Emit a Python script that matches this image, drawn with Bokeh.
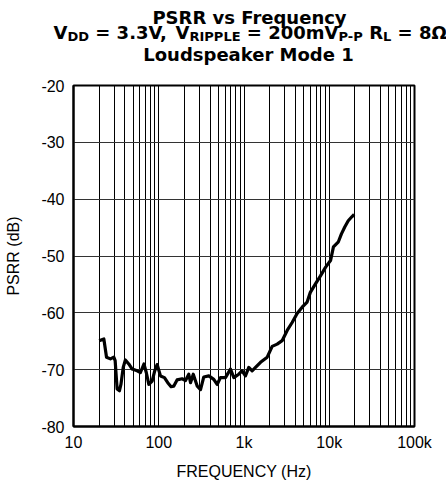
from bokeh.plotting import figure
from bokeh.layouts import column
from bokeh.models import FixedTicker, Range1d
from bokeh.core.properties import value
from bokeh.embed import file_html
from bokeh.resources import INLINE

# ---- data ----
freq_hz = [20, 22.7, 24.4, 27.1, 29.7, 30.8, 32.5, 34.6, 36, 38.3, 40.6, 44.5, 48.8,
           55.8, 61, 67, 71.4, 76.5, 83.6, 89.7, 95.7, 104.8, 116.6, 127.5, 139.5,
           149.8, 164, 188, 206, 225, 236, 254, 283, 309, 337, 387, 442, 484, 529,
           606, 694, 760, 868, 950, 1040, 1138, 1246, 1365, 1563, 1872, 2140, 2450,
           2800, 3210, 3670, 4200, 4810, 5500, 6000, 6890, 7890, 9030, 10350, 11200,
           12800, 13900, 15200, 16700, 18400, 19600]
psrr_db = [-64.9, -64.6, -67.8, -68.1, -67.8, -68.4, -73.4, -73.7, -72.6, -69.6, -68.3,
           -69.0, -69.9, -70.2, -70.5, -69.0, -70.5, -72.6, -72.0, -70.2, -69.1, -71.1,
           -71.4, -72.3, -73.0, -72.9, -71.8, -71.6, -71.9, -70.8, -72.3, -70.8, -72.9,
           -73.5, -71.3, -71.1, -71.7, -72.6, -71.4, -71.4, -69.9, -71.4, -70.8, -70.2,
           -71.1, -69.6, -70.2, -69.6, -68.7, -67.8, -65.9, -65.5, -64.9, -63.1, -61.7,
           -60.1, -59.0, -58.1, -56.4, -54.9, -53.5, -52.0, -50.8, -48.4, -47.5, -46.1,
           -44.9, -43.8, -43.1, -42.7]

x_ticks = [10, 100, 1000, 10000, 100000]
x_tick_labels = ["10", "100", "1k", "10k", "100k"]
y_ticks = [-80, -70, -60, -50, -40, -30, -20]
y_tick_labels = ["-80", "-70", "-60", "-50", "-40", "-30", "-20"]

title_line1 = "PSRR vs Frequency"
title_line3 = "Loudspeaker Mode 1"
# line 2 segments: (text, is_subscript)
title_line2 = [("V", False), ("DD", True), (" = 3.3V, V", False), ("RIPPLE", True),
               (" = 200mV", False), ("P-P", True), (" R", False), ("L", True),
               (" = 8Ω", False)]

FONT = "Liberation Sans"
TFONT = "DejaVu Sans"
W, H = 446, 483
HEAD_H = 70
MAIN_PX, SUB_PX = 18, 13
Y1, Y2, Y2S, Y3 = 17, 32, 35.5, 54

# approximate advance widths (em) of DejaVu Sans Bold, used only for laying out line 2
ADV = {"V": .774, "D": .830, "=": .838, "3": .696, ".": .380, ",": .380, " ": .348,
       "R": .770, "I": .372, "P": .733, "L": .637, "E": .683, "2": .696, "0": .696,
       "m": 1.042, "-": .415, "8": .696, "Ω": .837}

# ---- header with the three title lines (pixel coordinates, y downward) ----
head = figure(width=W, height=HEAD_H, x_range=Range1d(0, W), y_range=Range1d(HEAD_H, 0),
              output_backend="svg", toolbar_location=None,
              x_axis_location=None, y_axis_location=None,
              min_border_left=0, min_border_right=0, min_border_top=0, min_border_bottom=0)
head.frame_align = False
head.outline_line_color = None
head.grid.visible = False
head.background_fill_color = "white"
head.border_fill_color = "white"

base = dict(text_font=value(TFONT), text_font_style=value("bold"), text_color="black",
            text_baseline="alphabetic")
head.text(x=[249, 248], y=[Y1, Y3], text=[title_line1, title_line3],
          text_font_size=value(f"{MAIN_PX}px"), text_align="center", **base)

# lay out line 2 word by word
cursor = 53.0
mx, mt, sx, st = [], [], [], []
for seg, is_sub in title_line2:
    size = SUB_PX if is_sub else MAIN_PX
    for word in seg.split(" "):
        if word:
            (sx if is_sub else mx).append(cursor)
            (st if is_sub else mt).append(word)
            cursor += sum(ADV[c] for c in word) * size
        cursor += ADV[" "] * size
    cursor -= ADV[" "] * size
head.text(x=mx, y=[Y2] * len(mx), text=mt, text_font_size=value(f"{MAIN_PX}px"),
          text_align="left", **base)
head.text(x=sx, y=[Y2S] * len(sx), text=st, text_font_size=value(f"{SUB_PX}px"),
          text_align="left", **base)

# ---- chart ----
p = figure(width=W, height=H - HEAD_H, x_axis_type="log",
           x_range=Range1d(10, 100000), y_range=Range1d(-80, -20),
           output_backend="svg", toolbar_location=None,
           min_border_left=73, min_border_right=32, min_border_top=15,
           min_border_bottom=57)
p.frame_align = False
p.background_fill_color = "white"
p.border_fill_color = "white"
p.outline_line_color = "black"
p.outline_line_width = 2

minor = [m * d for d in x_ticks[:-1] for m in range(2, 10)]
p.xaxis.ticker = FixedTicker(ticks=x_ticks, minor_ticks=minor)
p.xaxis.major_label_overrides = {t: l for t, l in zip(x_ticks, x_tick_labels)}
p.yaxis.ticker = FixedTicker(ticks=y_ticks)
p.yaxis.major_label_overrides = {t: l for t, l in zip(y_ticks, y_tick_labels)}

for ax in (p.xaxis[0], p.yaxis[0]):
    ax.axis_line_color = "black"
    ax.axis_line_width = 2
    ax.major_tick_line_color = None
    ax.minor_tick_line_color = None
    ax.major_tick_out = 0
    ax.major_tick_in = 0
    ax.minor_tick_out = 0
    ax.minor_tick_in = 0
    ax.major_label_text_font = FONT
    ax.major_label_text_font_size = "16px"
    ax.major_label_text_color = "black"
    ax.axis_label_text_font = FONT
    ax.axis_label_text_font_size = "16px"
    ax.axis_label_text_font_style = "normal"
    ax.axis_label_text_color = "black"

p.xaxis.axis_label = "FREQUENCY (Hz)"
p.yaxis.axis_label = "PSRR (dB)"
p.xaxis.major_label_standoff = 7
p.xaxis.axis_label_standoff = 9
p.yaxis.major_label_standoff = 9
p.yaxis.axis_label_standoff = 16

p.xgrid.grid_line_color = "black"
p.xgrid.grid_line_width = 1
p.xgrid.minor_grid_line_color = "black"
p.xgrid.minor_grid_line_width = 1
p.ygrid.grid_line_color = "#333333"
p.ygrid.grid_line_width = 1.2

p.line(freq_hz, psrr_db, line_color="black", line_width=3.2, line_join="round")

layout = column(head, p, spacing=0)
open("out.html", "w").write(file_html(layout, INLINE))
